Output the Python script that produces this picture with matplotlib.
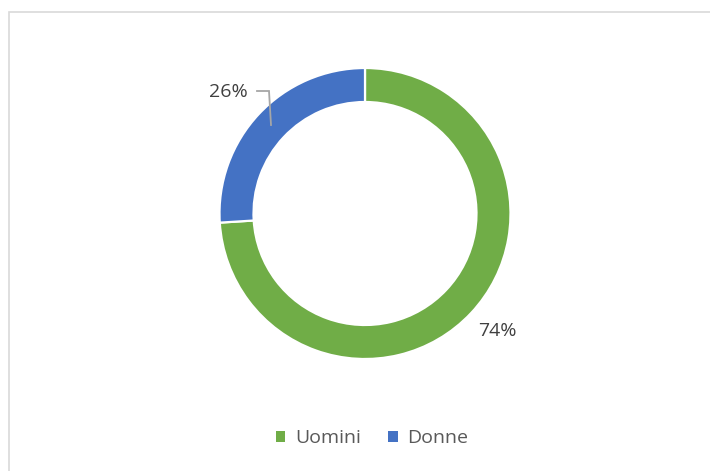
import matplotlib
matplotlib.use("Agg")
import matplotlib.pyplot as plt
from matplotlib.patches import Rectangle, Patch

categories = ["Uomini", "Donne"]
values = [74, 26]
labels = ["74%", "26%"]
colors = ["#70AD47", "#4472C4"]

W, H = 710, 471
fig = plt.figure(figsize=(W / 100, H / 100), dpi=100)
ax = fig.add_axes([0, 0, 1, 1])

cx, cy = 365, H - 213.5
R = 145.5
wedges, _ = ax.pie(values, colors=colors, startangle=90, counterclock=False,
                   center=(cx, cy), radius=R, frame=True,
                   wedgeprops=dict(width=34, edgecolor="white", linewidth=1.6))
ax.set_xlim(0, W)
ax.set_ylim(0, H)
ax.set_aspect("equal")
ax.axis("off")

font = "Open Sans"
# data labels
ax.text(497, H - 331, labels[0], ha="center", va="center", fontsize=14,
        color="#404040", family=font)
ax.text(228, H - 92, labels[1], ha="center", va="center", fontsize=14,
        color="#404040", family=font)
ax.plot([257, 269, 271], [H - 91, H - 91, H - 125], color="#A6A6A6", lw=1.3,
        solid_joinstyle="miter")

# chart border
fig.patches.append(Rectangle((8.5 / W, -0.1), 2, (H - 11.5) / H + 0.1,
                             transform=fig.transFigure, fill=False,
                             edgecolor="#D9D9D9", lw=1.2))

handles = [Patch(facecolor=c, edgecolor="none") for c in colors]
leg = fig.legend(handles, categories, loc="center", ncol=2,
                 bbox_to_anchor=(372 / W, 1 - 438 / H), frameon=False,
                 handlelength=0.5, handleheight=0.5, handletextpad=0.5,
                 columnspacing=1.4, prop=dict(family=font, size=14))
for t in leg.get_texts():
    t.set_color("#595959")

fig.savefig("out.png", dpi=100)
